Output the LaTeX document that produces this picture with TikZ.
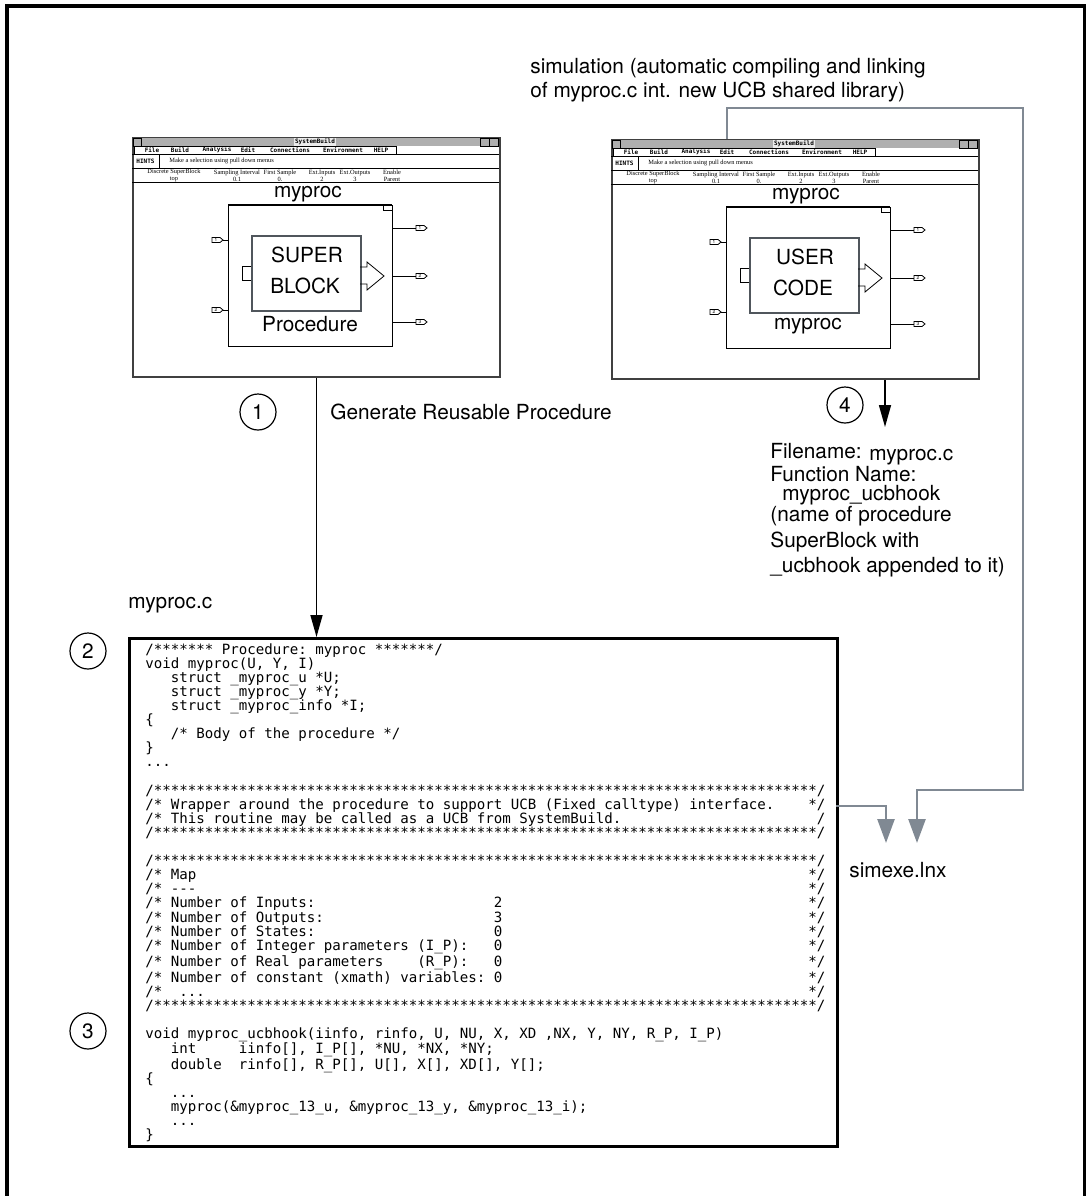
\documentclass[tikz,border=0pt]{standalone}
\usepackage{fontspec}
\setmainfont{TeX Gyre Heros}
\newfontfamily\codemono{DejaVu Sans Mono}
\newfontfamily\chromeserif{Liberation Serif}
\usepackage{tikz}
\usetikzlibrary{arrows.meta, positioning}
\definecolor{linkgray}{RGB}{128,137,147}
\definecolor{titlegray}{RGB}{175,175,175}
\definecolor{boxgray}{RGB}{80,86,92}

% fixed-width helpers for the code listing
\newlength\codech
\newcommand\pad[2]{\makebox[#1\codech][l]{#2}}
\newcommand\tenstars{**********}
\newcommand\starline{/\tenstars\tenstars\tenstars\tenstars\tenstars\tenstars\tenstars********/}
\newcommand\ind{\hphantom{xxx}}

% small port tag of a SuperBlock
\newcommand\sbport[4]{%
  \draw[thin] (#2,#3) ++(0,-2.5) -- ++(8,0) -- ++(3,2.5) -- ++(-3,2.5) -- ++(-8,0) -- cycle;
  \node[portnum] (#1) at (#2+4,#3) {#4};}

% SystemBuild window (title, menus, hints, info row)
\newcommand\sbwindow[3]{%
  \begin{scope}[shift={(#2,#3)}]
    \node[winframe, anchor=north west] (#1win) at (0,0) {};
    \fill[titlegray] (1,1) rectangle (366,9);
    \node[wintitle] (#1title) at (183,5) {SystemBuild};
    \draw[thin] (1,1) rectangle (9,9) (348,1) rectangle (357,9) (357,1) rectangle (366,9);
    \draw[thin] (2,9) rectangle (264,17);
    \foreach \mx/\mtext [count=\mi] in {20/File, 48/Build, 85/Analysis, 116/Edit, 158/Connections, 211/Environment, 249/HELP}
      \node[menutext] (#1menu\mi) at (\mx,13) {\mtext};
    \draw[thin] (0,17) -- (367,17) (27,17) -- (27,31);
    \node[menutext] (#1hints) at (13.5,24) {HINTS};
    \node[chrometext, anchor=west] (#1hinttext) at (37,24) {Make a selection using pull down menus};
    \draw[line width=0.9pt] (0,31.5) -- (367,31.5);
    \foreach \ix/\itop/\ibot [count=\ii] in {42/Discrete SuperBlock/top, 105/Sampling Interval/0.1, 148/First Sample/0., 190/Ext.Inputs/2, 223/Ext.Outputs/3, 260/Enable/Parent}
      \node[chrometext, align=center] (#1info\ii) at (\ix,38.5) {\itop\\\ibot};
    \draw[thin] (0,45.5) -- (367,45.5);
  \end{scope}}

% SuperBlock with its inner box
\newcommand\sbblock[6]{%
  \begin{scope}[shift={(#2,#3)}]
    \node[lbl] (#1name) at (80,-11) {myproc};
    \draw[thin] (0,0) rectangle (164,141);
    \draw[line width=1.1pt] (0,0) -- (164,0);
    \draw[thin] (155,0) rectangle (164,5);
    \node[corebox, anchor=north west] (#1core) at (23,30) {};
    \draw[thin] (#1core.west) ++(0,-7) -- ++(-9,0) -- ++(0,14) -- ++(9,0);
    \draw[thin] (132,62) -- (139,62) -- (139,57) -- (156,71) -- (139,85) -- (139,79) -- (132,79);
    \node[lbl] (#1top) at (79,50) {#4};
    \node[lbl] (#1mid) at (77,81) {#5};
    \node[lbl] (#1low) at (82,119) {#6};
    \draw[thin] (-5,35) -- (0,35) (-5,105) -- (0,105);
    \sbport{#1in1}{-16}{35}{1}
    \sbport{#1in2}{-16}{105}{2}
    \draw[thin] (164,23) -- (188,23) (164,71) -- (188,71) (164,117) -- (188,117);
    \sbport{#1out1}{188}{23}{1}
    \sbport{#1out2}{188}{71}{2}
    \sbport{#1out3}{188}{117}{3}
  \end{scope}}

\begin{document}
\begin{tikzpicture}[
    x=0.5pt, y=-0.5pt,
    lbl/.style={inner sep=0pt, font=\fontsize{10.4}{12}\selectfont},
    stepcircle/.style={circle, draw, line width=0.6pt, minimum size=18pt, inner sep=0pt, font=\fontsize{10.4}{12}\selectfont},
    codebox/.style={draw, line width=1.3pt, anchor=north west, minimum width=354pt, minimum height=254pt, inner sep=0pt},
    codetext/.style={anchor=north west, inner sep=0pt, align=left, font=\codemono\fontsize{7.06}{7.05}\selectfont\settowidth{\codech}{0}},
    flowarrow/.style={-{Triangle[length=11pt,width=6pt]}, line width=0.75pt},
    linkarrow/.style={-{Triangle[length=12pt,width=8.5pt]}, linkgray, line width=1.3pt},
    winframe/.style={draw=black!75, line width=1pt, minimum width=183.5pt, minimum height=119.5pt, inner sep=0pt},
    wintitle/.style={fill=white!85!gray, inner sep=0.4pt, font=\codemono\bfseries\fontsize{3}{3.3}\selectfont},
    menutext/.style={inner sep=0pt, font=\codemono\bfseries\fontsize{3}{3.3}\selectfont},
    chrometext/.style={inner sep=0pt, font=\chromeserif\fontsize{3.2}{3.5}\selectfont},
    corebox/.style={draw=boxgray, line width=1.2pt, minimum width=54.5pt, minimum height=37.5pt, inner sep=0pt},
    portnum/.style={inner sep=0pt, font=\fontsize{2.4}{2.6}\selectfont}
]
    \useasboundingbox (0,0) rectangle (1086,1196);
    % outer frame
    \draw[line width=1.6pt] (7,1230) -- (7,6) -- (1085,6) -- (1085,1230);

    % SystemBuild windows
    \sbwindow{l}{132}{137}
    \sbblock{l}{228}{205}{SUPER}{BLOCK}{Procedure}
    \sbwindow{r}{611}{139}
    \sbblock{r}{726}{207}{USER}{CODE}{myproc}

    % Labels
    \node[lbl, anchor=west, align=left] (simnote) at (530,80) {simulation (automatic compiling and linking\\of myproc.c int. new UCB shared library)};
    \node[stepcircle] (s1) at (258,412) {1};
    \node[lbl, anchor=west] (genlabel) at (330,412) {Generate Reusable Procedure};
    \node[stepcircle] (s4) at (845,405) {4};
    \node[lbl, anchor=west, align=left, font=\fontsize{10.4}{9.2}\selectfont] (fileinfo) at (770,474) {Filename: \raisebox{-1pt}{myproc.c}\\Function Name:\\\hspace*{6pt}myproc\_ucbhook};
    \node[lbl, anchor=west, align=left, font=\fontsize{10.4}{12.75}\selectfont] (namenote) at (770,542) {(name of procedure\\SuperBlock with\\\_ucbhook appended to it)};
    \node[lbl, anchor=west] (cfile) at (128,605) {myproc.c};
    \node[lbl, anchor=west] (simexe) at (849,870) {simexe.lnx};

    % Generated code
    \node[codebox] (codebox) at (128,637) {};
    \node[codetext] (code) at (145,643) {%
      /*******~Procedure:~myproc~*******/\\
      void myproc(U, Y, I)\\
      \ind struct \_myproc\_u *U;\\
      \ind struct \_myproc\_y *Y;\\
      \ind struct \_myproc\_info *I;\\
      \{\\
      \ind /* Body of the procedure */\\
      \}\\
      ...\\
      \mbox{}\\
      \starline\\
      \pad{78}{/* Wrapper around the procedure to support UCB (Fixed calltype) interface.}*/\\
      \pad{79}{/* This routine may be called as a UCB from SystemBuild.}/\\
      \starline\\
      \mbox{}\\
      \starline\\
      \pad{78}{/* Map}*/\\
      \pad{78}{/* -{}-{}-}*/\\
      \pad{78}{\pad{41}{/* Number of Inputs:}2}*/\\
      \pad{78}{\pad{41}{/* Number of Outputs:}3}*/\\
      \pad{78}{\pad{41}{/* Number of States:}0}*/\\
      \pad{78}{\pad{41}{/* Number of Integer parameters (I\_P):}0}*/\\
      \pad{78}{\pad{41}{\pad{32}{/* Number of Real parameters}(R\_P):}0}*/\\
      \pad{78}{\pad{41}{/* Number of constant (xmath) variables:}0}*/\\
      \pad{78}{/*~~...}*/\\
      \starline\\
      \mbox{}\\
      void myproc\_ucbhook(iinfo, rinfo, U, NU, X, XD ,NX, Y, NY, R\_P, I\_P)\\
      \ind int~~~~~iinfo[], I\_P[], *NU, *NX, *NY;\\
      \ind double~~rinfo[], R\_P[], U[], X[], XD[], Y[];\\
      \{\\
      \ind ...\\
      \ind myproc(\&myproc\_13\_u, \&myproc\_13\_y, \&myproc\_13\_i);\\
      \ind ...\\
      \}};
    \node[stepcircle] (s2) at (88,651) {2};
    \node[stepcircle] (s3) at (88,1031) {3};

    % Connectors
    \coordinate (ucbout) at (885,427);
    \coordinate (wrapout) at (836,806);
    \coordinate (simtap) at (727,108);
    \coordinate (simturn) at (1023,790);
    \coordinate (simin1) at (886,843);
    \coordinate (simin2) at (917,843);
    \draw[flowarrow] (lwin.south) -- (lwin.south |- codebox.north);
    \draw[flowarrow] (ucbout |- rwin.south) -- (ucbout);
    \draw[linkarrow] (wrapout) -| (simin1);
    \draw[linkarrow] (simtap |- rwin.north) -- (simtap) -| (simturn) -| (simin2);
\end{tikzpicture}
\end{document}
